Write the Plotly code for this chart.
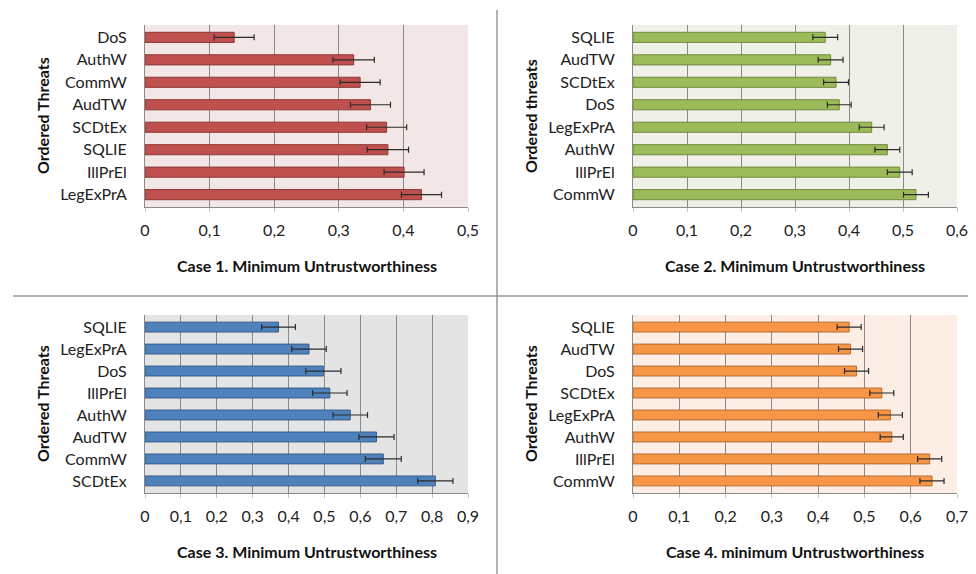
import plotly.graph_objects as go

# ---- data ----
case1_threats = ["DoS", "AuthW", "CommW", "AudTW", "SCDtEx", "SQLIE", "IllPrEl", "LegExPrA"]
case1_values = [0.138, 0.323, 0.333, 0.349, 0.374, 0.376, 0.401, 0.428]
case1_errors = [0.031, 0.032, 0.031, 0.031, 0.031, 0.032, 0.031, 0.031]

case2_threats = ["SQLIE", "AudTW", "SCDtEx", "DoS", "LegExPrA", "AuthW", "IllPrEl", "CommW"]
case2_values = [0.356, 0.366, 0.376, 0.382, 0.442, 0.471, 0.494, 0.524]
case2_errors = [0.023, 0.023, 0.023, 0.022, 0.023, 0.023, 0.023, 0.023]

case3_threats = ["SQLIE", "LegExPrA", "DoS", "IllPrEl", "AuthW", "AudTW", "CommW", "SCDtEx"]
case3_values = [0.372, 0.457, 0.497, 0.515, 0.572, 0.645, 0.664, 0.809]
case3_errors = [0.047, 0.048, 0.049, 0.048, 0.048, 0.049, 0.050, 0.049]

case4_threats = ["SQLIE", "AudTW", "DoS", "SCDtEx", "LegExPrA", "AuthW", "IllPrEl", "CommW"]
case4_values = [0.467, 0.470, 0.483, 0.5375, 0.556, 0.559, 0.641, 0.646]
case4_errors = [0.026, 0.026, 0.026, 0.026, 0.026, 0.025, 0.026, 0.026]

case1_ticks = [0, 0.1, 0.2, 0.3, 0.4, 0.5]
case2_ticks = [0, 0.1, 0.2, 0.3, 0.4, 0.5, 0.6]
case3_ticks = [0, 0.1, 0.2, 0.3, 0.4, 0.5, 0.6, 0.7, 0.8, 0.9]
case4_ticks = [0, 0.1, 0.2, 0.3, 0.4, 0.5, 0.6, 0.7]

x_titles = ["Case 1. Minimum Untrustworthiness", "Case 2. Minimum Untrustworthiness",
            "Case 3. Minimum Untrustworthiness", "Case 4. minimum Untrustworthiness"]
y_titles = ["Ordered Threats", "Ordered threats", "Ordered Threats", "Ordered Threats"]

# ---- layout/styling ----
# the page body has an 8px default margin, so the figure is 8px smaller and
# window pixel positions are shifted by 8px
OFF = 8
W, H = 976 - OFF, 574 - OFF
FONT = "Lato"
bar_colors = ["#C0504D", "#9BBB59", "#4F81BD", "#F79646"]
edge_colors = ["#8C3836", "#71893F", "#385D8A", "#B66D31"]
bg_colors = ["#F2E6E6", "#EFF1E8", "#E4E4E4", "#FCEDE5"]
# plot areas in window pixels: (left, right, top, bottom)
boxes = [(145, 468, 25, 207), (633, 957, 25, 207), (145, 468, 315, 493), (633, 957, 315, 493)]


def px(xw):
    return (xw - OFF) / W


def py(yw):
    return 1 - (yw - OFF) / H


panels = [
    (case1_threats, case1_values, case1_errors, case1_ticks),
    (case2_threats, case2_values, case2_errors, case2_ticks),
    (case3_threats, case3_values, case3_errors, case3_ticks),
    (case4_threats, case4_values, case4_errors, case4_ticks),
]

fig = go.Figure()
shapes = []
annotations = []
layout_axes = {}

for i, (cats, vals, errs, ticks) in enumerate(panels):
    n = i + 1
    xa = "x" if n == 1 else f"x{n}"
    ya = "y" if n == 1 else f"y{n}"
    xkey = "xaxis" if n == 1 else f"xaxis{n}"
    ykey = "yaxis" if n == 1 else f"yaxis{n}"
    l, r, t, b = boxes[i]
    fig.add_trace(go.Bar(
        x=vals, y=cats, orientation="h", xaxis=xa, yaxis=ya,
        marker=dict(color=bar_colors[i], line=dict(color=edge_colors[i], width=1)),
        width=0.45,
        error_x=dict(type="data", array=errs, color="#2b2b2b", thickness=1.2, width=3),
        showlegend=False, hoverinfo="skip",
    ))
    layout_axes[xkey] = dict(
        domain=[px(l), px(r)], anchor=ya, range=[0, ticks[-1]], automargin=False,
        tickvals=ticks, ticktext=[("0" if v == 0 else f"{v:.1f}".replace(".", ",")) for v in ticks],
        showgrid=True, gridcolor="#8a8a8a", gridwidth=1,
        showline=True, linecolor="#8a8a8a", linewidth=1,
        ticks="outside", ticklen=4, tickcolor="#c4c4c4",
        ticklabelstandoff=5,
        tickfont=dict(family=FONT, size=16, color="#222"), zeroline=False, fixedrange=True,
    )
    layout_axes[ykey] = dict(
        domain=[py(b), py(t)], anchor=xa, type="category", automargin=False,
        autorange=False, range=[7.55, -0.55],
        showgrid=False, showline=True, linecolor="#8a8a8a", linewidth=1,
        ticks="", ticklabelstandoff=14,
        tickfont=dict(family=FONT, size=16, color="#222"), fixedrange=True,
    )
    shapes.append(dict(type="rect", xref=f"{xa} domain", yref=f"{ya} domain",
                       x0=0, x1=1, y0=0, y1=1, fillcolor=bg_colors[i],
                       line=dict(width=0), layer="below"))
    annotations.append(dict(text=f"<b>{x_titles[i]}</b>", xref="paper", yref="paper",
                            x=px((l + r) / 2), y=py(b + 58), showarrow=False,
                            xanchor="center", yanchor="middle",
                            font=dict(family=FONT, size=16, color="#111")))
    annotations.append(dict(text=f"<b>{y_titles[i]}</b>", xref="paper", yref="paper",
                            x=px(l - 103), y=py((t + b) / 2), showarrow=False,
                            textangle=-90, xanchor="center", yanchor="middle",
                            font=dict(family=FONT, size=16, color="#111")))

# separator lines
shapes.append(dict(type="line", xref="paper", yref="paper", x0=px(13), x1=1,
                   y0=py(296), y1=py(296), line=dict(color="#9a9a9a", width=1.5)))
shapes.append(dict(type="line", xref="paper", yref="paper", x0=px(497), x1=px(497),
                   y0=0, y1=py(10), line=dict(color="#9a9a9a", width=1.5)))

fig.update_layout(
    width=W, height=H, margin=dict(l=0, r=0, t=0, b=0, autoexpand=False),
    paper_bgcolor="white", plot_bgcolor="rgba(0,0,0,0)",
    shapes=shapes, annotations=annotations, bargap=0.5,
    **layout_axes,
)

fig.write_html("out.html")
